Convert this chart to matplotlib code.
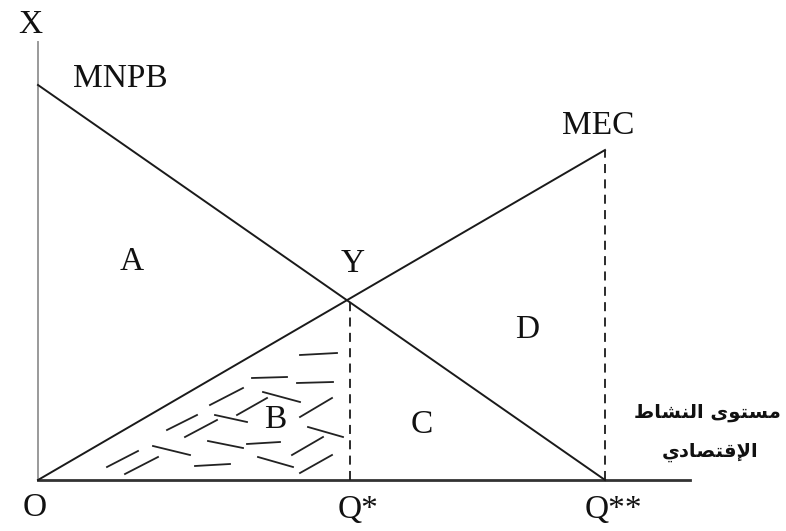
import numpy as np
import matplotlib.pyplot as plt

# quantities measured from origin O (horizontal) and value (vertical)
q_star = 312
q_2star = 567
x_axis_end = 652
y_axis_end = 438

mnpb_q = [0, q_2star]
mnpb_v = [395, 0]
mec_q = [0, q_2star]
mec_v = [0, 330]

# short dashes that shade the area B (x0, y0, x1, y1)
dash_x0 = [262, 214, 259, 172, 225, 199, 262, 129, 177, 147, 270, 115, 170, 209, 254, 69, 87, 157, 220, 262]
dash_y0 = [125, 102, 97, 75, 88, 65, 63, 50, 65, 43, 53, 34, 39, 36, 25, 13, 6, 14, 23, 7]
dash_x1 = [299, 249, 295, 205, 262, 229, 294, 159, 209, 179, 305, 152, 205, 242, 285, 100, 120, 192, 255, 294]
dash_y1 = [127, 103, 98, 92, 78, 82, 82, 65, 58, 60, 43, 25, 32, 38, 43, 29, 23, 16, 13, 25]

labels = ["X", "MNPB", "MEC", "A", "Y", "D", "B", "C", "O", "Q*", "Q**"]
label_q = [-8, 82, 560, 94, 315, 489, 237, 384, -3, 320, 575]
label_v = [455, 401, 354, 218, 216, 150, 60, 55, -28, -30, -30]

# Arabic caption, written in display order with presentation forms
caption_1 = "\uFEC1\uFE8E\uFEB8\uFEE8\uFEDF\uFE8D \uFEEF\uFEEE\uFE98\uFEB4\uFEE3"
caption_2 = "\uFEF1\uFEA9\uFE8E\uFEBC\uFE98\uFED7\uFEF9\uFE8D"

fig = plt.figure(figsize=(7.86, 5.31), dpi=100)
ax = fig.add_axes([0, 0, 1, 1])
ax.set_xlim(-38, 748)
ax.set_ylim(-51, 480)
ax.axis('off')

# axes of the diagram
ax.plot([0, 0], [0, y_axis_end], color='#9a9a9a', lw=1.4)
ax.plot([0, x_axis_end], [0, 0], color='#333333', lw=2.0)

# curves
ax.plot(mnpb_q, mnpb_v, color='#1a1a1a', lw=1.4)
ax.plot(mec_q, mec_v, color='#1a1a1a', lw=1.4)

# dashed verticals at Q* and Q**
y_at_star = np.interp(q_star, mec_q, mec_v)
ax.plot([q_star, q_star], [0, y_at_star], color='#1a1a1a', lw=1.3, ls=(0, (5, 3.5)))
ax.plot([q_2star, q_2star], [0, mec_v[1]], color='#1a1a1a', lw=1.3, ls=(0, (5, 3.5)))

# hatch dashes in B
for a, b, c, d in zip(dash_x0, dash_y0, dash_x1, dash_y1):
    ax.plot([a, c], [b, d], color='#222222', lw=1.3)

for t, x, y in zip(labels, label_q, label_v):
    ax.text(x, y, t, family='Liberation Serif', fontsize=24, color='#111111',
            ha='center', va='center')

ax.text(669, 68, caption_1, family='DejaVu Sans', fontweight='bold', fontsize=14,
        color='#111111', ha='center', va='center')
ax.text(672, 28, caption_2, family='DejaVu Sans', fontweight='bold', fontsize=14,
        color='#111111', ha='center', va='center')

fig.savefig('out.png', dpi=100)
